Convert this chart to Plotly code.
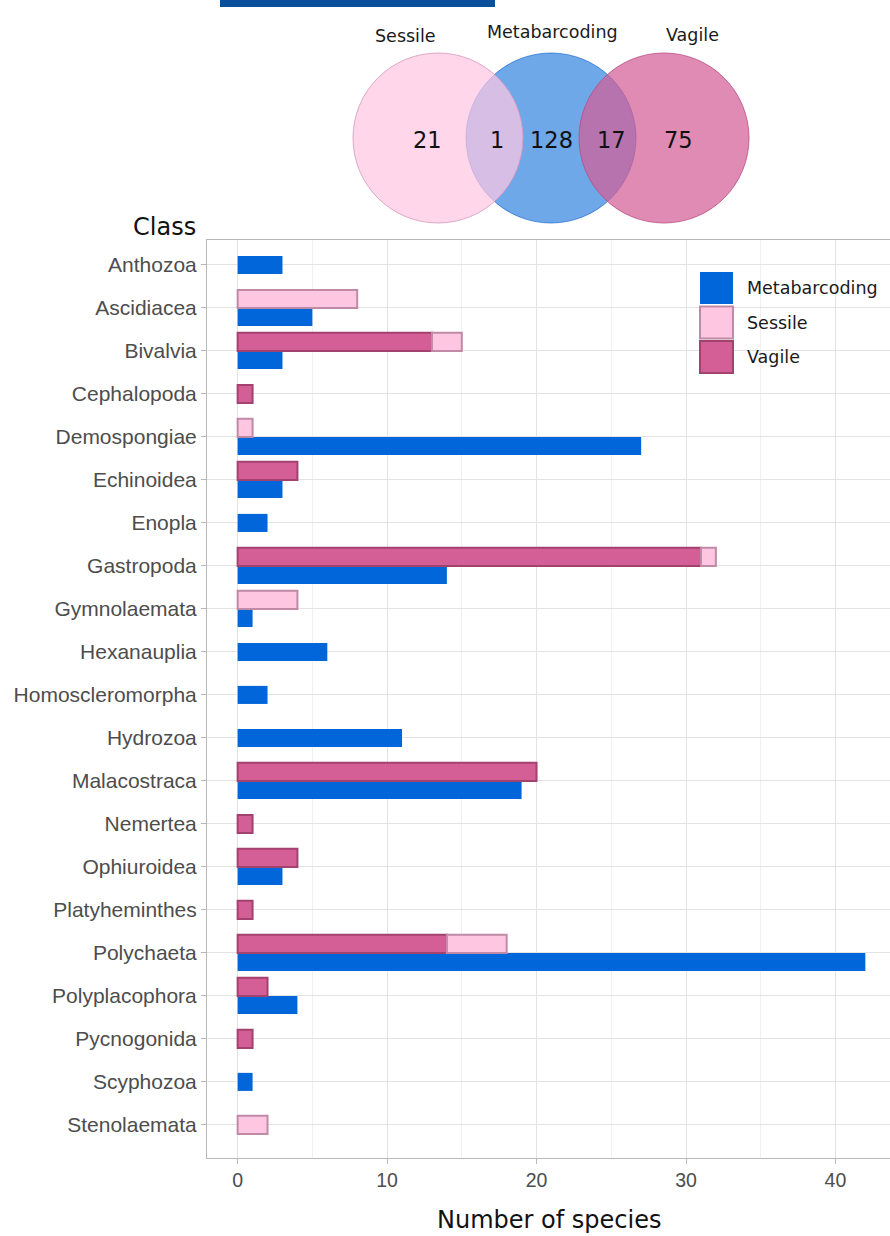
import plotly.graph_objects as go

# data
classes = ['Anthozoa', 'Ascidiacea', 'Bivalvia', 'Cephalopoda', 'Demospongiae',
           'Echinoidea', 'Enopla', 'Gastropoda', 'Gymnolaemata', 'Hexanauplia',
           'Homoscleromorpha', 'Hydrozoa', 'Malacostraca', 'Nemertea', 'Ophiuroidea',
           'Platyheminthes', 'Polychaeta', 'Polyplacophora', 'Pycnogonida',
           'Scyphozoa', 'Stenolaemata']
metabarcoding = [3, 5, 3, 0, 27, 3, 2, 14, 1, 6, 2, 11, 19, 0, 3, 0, 42, 4, 0, 1, 0]
vagile = [0, 0, 13, 1, 0, 4, 0, 31, 0, 0, 0, 0, 20, 1, 4, 1, 14, 2, 1, 0, 0]
sessile = [0, 8, 2, 0, 1, 0, 0, 1, 4, 0, 0, 0, 0, 0, 0, 0, 4, 0, 0, 0, 2]

venn_sets = ['Sessile', 'Metabarcoding', 'Vagile']
venn_counts = ['21', '1', '128', '17', '75']

BLUE = '#0066D9'
PINK = '#FFC6E2'
MAGENTA = '#D45E96'

# plot area in pixels (for placing decorations in paper coords)
L, R, T, B = 207, 890, 240, 1158
def px(x):
    return (x - L) / (R - L)
def py(y):
    return (B - y) / (B - T)

W = 0.42  # bar thickness in category units
pink_off, blue_off = [], []
for m, v, s in zip(metabarcoding, vagile, sessile):
    has_pink = (v + s) > 0
    has_blue = m > 0
    if has_pink and has_blue:
        pink_off.append(-W)
        blue_off.append(0)
    else:
        pink_off.append(-W / 2)
        blue_off.append(-W / 2)

def nz(vals):
    return [v if v > 0 else None for v in vals]

fig = go.Figure()

fig.add_trace(go.Bar(y=classes, x=nz(metabarcoding), orientation='h', name='Metabarcoding',
                     offset=blue_off, width=W, marker=dict(color=BLUE, line=dict(width=0))))
fig.add_trace(go.Bar(y=classes, x=nz(vagile), orientation='h', name='Vagile',
                     offset=pink_off, width=W,
                     marker=dict(color=MAGENTA, line=dict(color='#A3426F', width=2))))
fig.add_trace(go.Bar(y=classes, x=nz(sessile), base=vagile, orientation='h', name='Sessile',
                     offset=pink_off, width=W,
                     marker=dict(color=PINK, line=dict(color='#C08AA6', width=2))))

shapes = []
annotations = []

# legend (drawn by hand to get the large ggplot-style keys)
legend_items = [('Metabarcoding', BLUE, BLUE, 0), ('Sessile', PINK, '#C08AA6', 2),
                ('Vagile', MAGENTA, '#A3426F', 2)]
for i, (lab, fill, edge, lw) in enumerate(legend_items):
    y0 = 271 + i * 34.5
    shapes.append(dict(type='rect', xref='paper', yref='paper',
                       x0=px(700), x1=px(733), y0=py(y0 + 1), y1=py(y0 + 33),
                       fillcolor=fill, line=dict(color=edge, width=lw)))
    annotations.append(dict(text=lab, xref='paper', yref='paper', x=px(745), y=py(y0 + 17),
                            xanchor='left', yanchor='middle', showarrow=False,
                            font=dict(family='DejaVu Sans', size=17.5, color='#1a1a1a')))

# venn diagram above the chart
r = 85
venn_circles = [(551, 'rgba(0,102,217,0.57)', 'rgba(0,85,200,0.6)'),
                (438, 'rgba(255,198,226,0.72)', 'rgba(215,150,188,0.8)'),
                (664, 'rgba(212,94,150,0.72)', 'rgba(185,75,130,0.8)')]
for cx, fill, edge in venn_circles:
    shapes.append(dict(type='circle', xref='paper', yref='paper',
                       x0=px(cx - r), x1=px(cx + r), y0=py(138 + r), y1=py(138 - r),
                       fillcolor=fill, line=dict(color=edge, width=1)))
for lab, x, y in zip(venn_sets, [405, 552, 692], [36, 32, 35]):
    annotations.append(dict(text=lab, xref='paper', yref='paper', x=px(x), y=py(y),
                            xanchor='center', yanchor='middle', showarrow=False,
                            font=dict(family='DejaVu Sans', size=17.5, color='#1a1a1a')))
for lab, x in zip(venn_counts, [427, 497, 551, 611, 678]):
    annotations.append(dict(text=lab, xref='paper', yref='paper', x=px(x), y=py(140),
                            xanchor='center', yanchor='middle', showarrow=False,
                            font=dict(family='DejaVu Sans', size=22.5, color='#111111')))

# cut-off header strip at the very top
shapes.append(dict(type='rect', xref='paper', yref='paper', x0=px(220), x1=px(495),
                   y0=py(7), y1=py(0), fillcolor='#0A4F9C', line=dict(width=0)))

annotations.append(dict(text='Class', xref='paper', yref='paper', x=px(198), y=py(227),
                        xanchor='right', yanchor='middle', showarrow=False,
                        font=dict(family='DejaVu Sans', size=24, color='#111111')))
annotations.append(dict(text='Number of species', xref='paper', yref='paper',
                        x=px(549), y=py(1220), xanchor='center', yanchor='middle',
                        showarrow=False,
                        font=dict(family='DejaVu Sans', size=24, color='#111111')))

fig.update_layout(
    width=890, height=1236,
    margin=dict(l=L, r=890 - R, t=T, b=1236 - B),
    barmode='overlay',
    plot_bgcolor='white', paper_bgcolor='white',
    showlegend=False,
    shapes=shapes,
    annotations=annotations,
    xaxis=dict(range=[-2.05, 43.65], tickvals=[0, 10, 20, 30, 40],
               showgrid=True, gridcolor='#E3E3E3', gridwidth=1,
               minor=dict(dtick=5, tick0=0, showgrid=True, gridcolor='#F0F0F0', gridwidth=1),
               zeroline=False, showline=True, mirror=True, linecolor='#B8B8B8', linewidth=1,
               ticks='outside', ticklen=5, tickcolor='#B8B8B8',
               tickfont=dict(family='Liberation Sans', size=19.5, color='#4D4D4D')),
    yaxis=dict(type='category', categoryorder='array', categoryarray=classes,
               range=[20.77, -0.58],
               showgrid=True, gridcolor='#E3E3E3', gridwidth=1,
               showline=True, mirror=True, linecolor='#B8B8B8', linewidth=1,
               ticks='outside', ticklen=5, tickcolor='#B8B8B8',
               tickfont=dict(family='Liberation Sans', size=21, color='#4D4D4D')),
)

# page body margin would push the fixed-size figure off the window
fig.write_html("out.html", config={'displayModeBar': False},
               post_script="document.body.style.margin='0';document.body.style.overflow='hidden';")
